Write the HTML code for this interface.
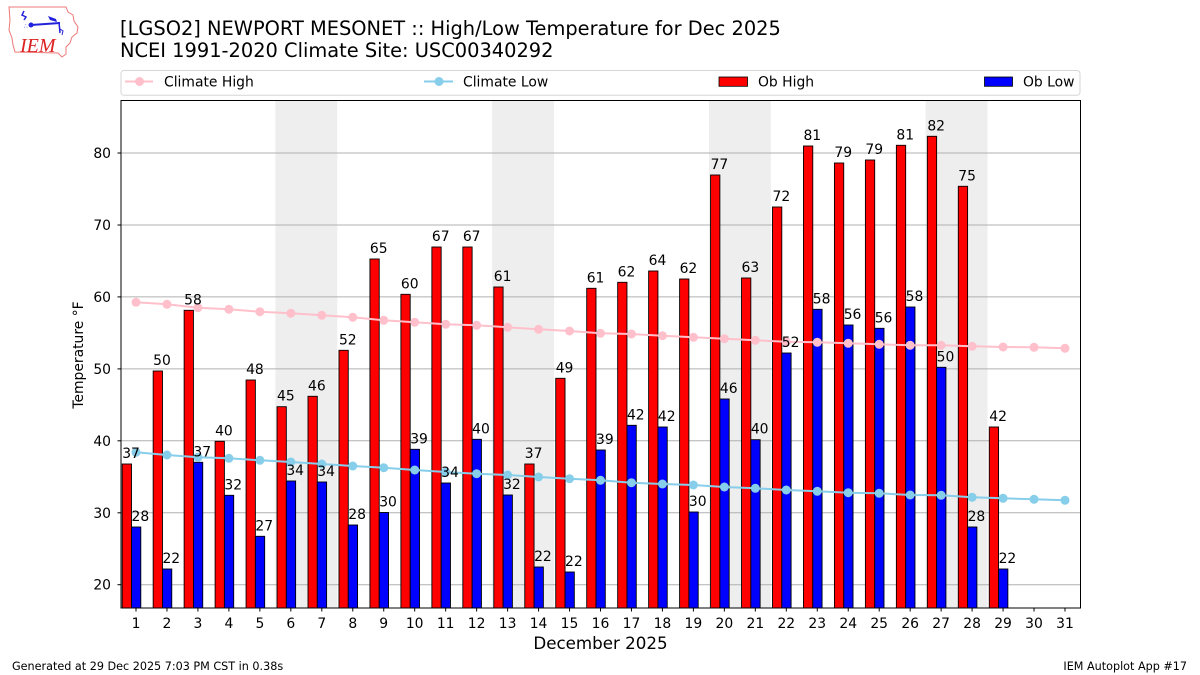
<!DOCTYPE html>
<html><head><meta charset="utf-8"><style>
html,body{margin:0;padding:0;background:#fff;}
svg{display:block;font-family:"DejaVu Sans","Liberation Sans",sans-serif;}
</style></head><body>
<svg width="1200" height="675" viewBox="0 0 1200 675" xmlns="http://www.w3.org/2000/svg">
<rect width="1200" height="675" fill="#fff"/>
<!-- logo -->
<g>
<path d="M9,7 L66,7 L68,12 L73,15 L74,21 L78,27 L77,33 L72,37 L70,43 L66,47 L66,54 L62,57 L58,53 L15,52 L13,45 L12,38 L9,30 L10,20 Z" fill="none" stroke="#e77" stroke-width="1"/>
<path d="M24,11 L22,15 L26,17 L24,20" fill="none" stroke="#22d" stroke-width="1.5"/>
<circle cx="31" cy="25" r="2.5" fill="#22d"/>
<line x1="31" y1="25" x2="60" y2="23" stroke="#22d" stroke-width="2"/>
<path d="M48,16 L56,19 L57,22 L50,20 Z" fill="#22d"/>
<line x1="59" y1="22" x2="60" y2="33" stroke="#22d" stroke-width="1.5"/>
<path d="M60,29 L63,31 L62,35" fill="none" stroke="#22d" stroke-width="1"/>
<text x="24" y="28" font-size="6" fill="#22d">∴</text>
<text x="20" y="52" font-family="Liberation Serif,serif" font-style="italic" font-size="20" fill="#d22">IEM</text>
</g>
<!-- title -->
<text x="120" y="35" font-size="19.4" fill="#000">[LGSO2] NEWPORT MESONET :: High/Low Temperature for Dec 2025</text>
<text x="120" y="57" font-size="19.4" fill="#000">NCEI 1991-2020 Climate Site: USC00340292</text>
<!-- legend -->
<rect x="121" y="70.5" width="959" height="24.8" rx="3" fill="#fff" stroke="#d6d6d6" stroke-width="1"/>
<line x1="125" y1="81.5" x2="153" y2="81.5" stroke="#ffc0cb" stroke-width="2"/>
<circle cx="139.5" cy="81.5" r="4.5" fill="#ffc0cb"/>
<text x="164" y="86.5" font-size="13.9">Climate High</text>
<line x1="424" y1="81.5" x2="453" y2="81.5" stroke="#87ceeb" stroke-width="2"/>
<circle cx="439" cy="81.5" r="4.5" fill="#87ceeb"/>
<text x="463" y="86.5" font-size="13.9">Climate Low</text>
<rect x="719" y="77" width="28.5" height="9.3" fill="#f00" stroke="#000" stroke-width="0.8"/>
<text x="758" y="86.5" font-size="13.9">Ob High</text>
<rect x="984.5" y="77" width="28" height="9.3" fill="#00f" stroke="#000" stroke-width="0.8"/>
<text x="1023" y="86.5" font-size="13.9">Ob Low</text>
<!-- weekend shading -->
<g fill="#eeeeee">
<rect x="275.35" y="100.5" width="61.93" height="507.5"/>
<rect x="492.1" y="100.5" width="61.93" height="507.5"/>
<rect x="708.9" y="100.5" width="61.93" height="507.5"/>
<rect x="925.65" y="100.5" width="61.93" height="507.5"/>
</g>
<!-- grid -->
<g stroke="#b0b0b0" stroke-width="1">
<line x1="121" y1="584.7" x2="1080.5" y2="584.7"/>
<line x1="121" y1="512.8" x2="1080.5" y2="512.8"/>
<line x1="121" y1="440.8" x2="1080.5" y2="440.8"/>
<line x1="121" y1="368.9" x2="1080.5" y2="368.9"/>
<line x1="121" y1="296.9" x2="1080.5" y2="296.9"/>
<line x1="121" y1="225.0" x2="1080.5" y2="225.0"/>
<line x1="121" y1="153.0" x2="1080.5" y2="153.0"/>
</g>
<!-- red bars -->
<g fill="#f00" stroke="#000" stroke-width="0.9">
<rect x="122.2" y="464" width="9.3" height="144"/>
<rect x="153.17" y="371" width="9.3" height="237"/>
<rect x="184.13" y="310.3" width="9.3" height="297.7"/>
<rect x="215.1" y="441.3" width="9.3" height="166.7"/>
<rect x="246.07" y="380" width="9.3" height="228"/>
<rect x="277.03" y="406.7" width="9.3" height="201.3"/>
<rect x="308.0" y="396.3" width="9.3" height="211.7"/>
<rect x="338.97" y="350.3" width="9.3" height="257.7"/>
<rect x="369.93" y="259" width="9.3" height="349"/>
<rect x="400.9" y="294.3" width="9.3" height="313.7"/>
<rect x="431.87" y="247" width="9.3" height="361"/>
<rect x="462.83" y="247" width="9.3" height="361"/>
<rect x="493.8" y="287" width="9.3" height="321"/>
<rect x="524.77" y="464" width="9.3" height="144"/>
<rect x="555.73" y="378.3" width="9.3" height="229.7"/>
<rect x="586.7" y="288.3" width="9.3" height="319.7"/>
<rect x="617.67" y="282.3" width="9.3" height="325.7"/>
<rect x="648.63" y="271" width="9.3" height="337"/>
<rect x="679.6" y="279" width="9.3" height="329"/>
<rect x="710.57" y="175" width="9.3" height="433"/>
<rect x="741.53" y="278" width="9.3" height="330"/>
<rect x="772.5" y="207" width="9.3" height="401"/>
<rect x="803.47" y="146" width="9.3" height="462"/>
<rect x="834.43" y="163" width="9.3" height="445"/>
<rect x="865.4" y="160" width="9.3" height="448"/>
<rect x="896.37" y="145.3" width="9.3" height="462.7"/>
<rect x="927.33" y="136.3" width="9.3" height="471.7"/>
<rect x="958.3" y="186.3" width="9.3" height="421.7"/>
<rect x="989.27" y="427" width="9.3" height="181"/>
</g>
<!-- blue bars -->
<g fill="#00f" stroke="#000" stroke-width="0.9">
<rect x="131.5" y="527" width="9.3" height="81"/>
<rect x="162.47" y="569" width="9.3" height="39"/>
<rect x="193.43" y="462.3" width="9.3" height="145.7"/>
<rect x="224.4" y="495.3" width="9.3" height="112.7"/>
<rect x="255.37" y="536.3" width="9.3" height="71.7"/>
<rect x="286.33" y="481" width="9.3" height="127"/>
<rect x="317.3" y="482" width="9.3" height="126"/>
<rect x="348.27" y="525" width="9.3" height="83"/>
<rect x="379.23" y="512.5" width="9.3" height="95.5"/>
<rect x="410.2" y="449.3" width="9.3" height="158.7"/>
<rect x="441.17" y="483" width="9.3" height="125"/>
<rect x="472.13" y="439.3" width="9.3" height="168.7"/>
<rect x="503.1" y="495" width="9.3" height="113"/>
<rect x="534.07" y="567" width="9.3" height="41"/>
<rect x="565.03" y="572" width="9.3" height="36"/>
<rect x="596.0" y="450" width="9.3" height="158"/>
<rect x="626.97" y="425.3" width="9.3" height="182.7"/>
<rect x="657.93" y="427" width="9.3" height="181"/>
<rect x="688.9" y="512" width="9.3" height="96"/>
<rect x="719.87" y="399" width="9.3" height="209"/>
<rect x="750.83" y="439.7" width="9.3" height="168.3"/>
<rect x="781.8" y="353" width="9.3" height="255"/>
<rect x="812.77" y="309.3" width="9.3" height="298.7"/>
<rect x="843.73" y="325" width="9.3" height="283"/>
<rect x="874.7" y="328.3" width="9.3" height="279.7"/>
<rect x="905.67" y="307" width="9.3" height="301"/>
<rect x="936.63" y="367.3" width="9.3" height="240.7"/>
<rect x="967.6" y="527" width="9.3" height="81"/>
<rect x="998.57" y="569" width="9.3" height="39"/>
</g>
<!-- climate high -->
<polyline fill="none" stroke="#ffc0cb" stroke-width="2" points="136,302.3 166.97,304.3 197.93,307.7 228.9,309.3 259.87,311.7 290.83,313.3 321.8,315.3 352.77,317.3 383.73,320.3 414.7,322.3 445.67,324.3 476.63,325.3 507.6,327.3 538.57,329.3 569.53,331 600.5,333.3 631.47,334 662.43,335.7 693.4,337.3 724.37,338.7 755.33,340.3 786.3,341.7 817.27,342.3 848.23,343.3 879.2,344.3 910.17,345.3 941.13,345.3 972.1,346.3 1003.07,347 1034.03,347.3 1065,348.3"/>
<g fill="#ffc0cb">
<circle cx="136" cy="302.3" r="4.5"/><circle cx="166.97" cy="304.3" r="4.5"/><circle cx="197.93" cy="307.7" r="4.5"/><circle cx="228.9" cy="309.3" r="4.5"/><circle cx="259.87" cy="311.7" r="4.5"/><circle cx="290.83" cy="313.3" r="4.5"/><circle cx="321.8" cy="315.3" r="4.5"/><circle cx="352.77" cy="317.3" r="4.5"/><circle cx="383.73" cy="320.3" r="4.5"/><circle cx="414.7" cy="322.3" r="4.5"/><circle cx="445.67" cy="324.3" r="4.5"/><circle cx="476.63" cy="325.3" r="4.5"/><circle cx="507.6" cy="327.3" r="4.5"/><circle cx="538.57" cy="329.3" r="4.5"/><circle cx="569.53" cy="331" r="4.5"/><circle cx="600.5" cy="333.3" r="4.5"/><circle cx="631.47" cy="334" r="4.5"/><circle cx="662.43" cy="335.7" r="4.5"/><circle cx="693.4" cy="337.3" r="4.5"/><circle cx="724.37" cy="338.7" r="4.5"/><circle cx="755.33" cy="340.3" r="4.5"/><circle cx="786.3" cy="341.7" r="4.5"/><circle cx="817.27" cy="342.3" r="4.5"/><circle cx="848.23" cy="343.3" r="4.5"/><circle cx="879.2" cy="344.3" r="4.5"/><circle cx="910.17" cy="345.3" r="4.5"/><circle cx="941.13" cy="345.3" r="4.5"/><circle cx="972.1" cy="346.3" r="4.5"/><circle cx="1003.07" cy="347" r="4.5"/><circle cx="1034.03" cy="347.3" r="4.5"/><circle cx="1065" cy="348.3" r="4.5"/>
</g>
<!-- climate low -->
<polyline fill="none" stroke="#87ceeb" stroke-width="2" points="136,452.3 166.97,455 197.93,457.3 228.9,458.3 259.87,460.3 290.83,462 321.8,464 352.77,466 383.73,467.7 414.7,470 445.67,472 476.63,473.7 507.6,475 538.57,477 569.53,478.7 600.5,480.3 631.47,482.7 662.43,484 693.4,485 724.37,487 755.33,488.3 786.3,490 817.27,491.3 848.23,492.7 879.2,493.3 910.17,495 941.13,495.3 972.1,497.3 1003.07,498.3 1034.03,499.3 1065,500.3"/>
<g fill="#87ceeb">
<circle cx="136" cy="452.3" r="4.5"/><circle cx="166.97" cy="455" r="4.5"/><circle cx="197.93" cy="457.3" r="4.5"/><circle cx="228.9" cy="458.3" r="4.5"/><circle cx="259.87" cy="460.3" r="4.5"/><circle cx="290.83" cy="462" r="4.5"/><circle cx="321.8" cy="464" r="4.5"/><circle cx="352.77" cy="466" r="4.5"/><circle cx="383.73" cy="467.7" r="4.5"/><circle cx="414.7" cy="470" r="4.5"/><circle cx="445.67" cy="472" r="4.5"/><circle cx="476.63" cy="473.7" r="4.5"/><circle cx="507.6" cy="475" r="4.5"/><circle cx="538.57" cy="477" r="4.5"/><circle cx="569.53" cy="478.7" r="4.5"/><circle cx="600.5" cy="480.3" r="4.5"/><circle cx="631.47" cy="482.7" r="4.5"/><circle cx="662.43" cy="484" r="4.5"/><circle cx="693.4" cy="485" r="4.5"/><circle cx="724.37" cy="487" r="4.5"/><circle cx="755.33" cy="488.3" r="4.5"/><circle cx="786.3" cy="490" r="4.5"/><circle cx="817.27" cy="491.3" r="4.5"/><circle cx="848.23" cy="492.7" r="4.5"/><circle cx="879.2" cy="493.3" r="4.5"/><circle cx="910.17" cy="495" r="4.5"/><circle cx="941.13" cy="495.3" r="4.5"/><circle cx="972.1" cy="497.3" r="4.5"/><circle cx="1003.07" cy="498.3" r="4.5"/><circle cx="1034.03" cy="499.3" r="4.5"/><circle cx="1065" cy="500.3" r="4.5"/>
</g>
<!-- bar labels -->
<g font-size="13.9" fill="#000">
<text x="122.2" y="458">37</text>
<text x="153.17" y="365">50</text>
<text x="184.13" y="304.3">58</text>
<text x="215.1" y="435.3">40</text>
<text x="246.07" y="374">48</text>
<text x="277.03" y="400.7">45</text>
<text x="308.0" y="390.3">46</text>
<text x="338.97" y="344.3">52</text>
<text x="369.93" y="253">65</text>
<text x="400.9" y="288.3">60</text>
<text x="431.87" y="241">67</text>
<text x="462.83" y="241">67</text>
<text x="493.8" y="281">61</text>
<text x="524.77" y="458">37</text>
<text x="555.73" y="372.3">49</text>
<text x="586.7" y="282.3">61</text>
<text x="617.67" y="276.3">62</text>
<text x="648.63" y="265">64</text>
<text x="679.6" y="273">62</text>
<text x="710.57" y="169">77</text>
<text x="741.53" y="272">63</text>
<text x="772.5" y="201">72</text>
<text x="803.47" y="140">81</text>
<text x="834.43" y="157">79</text>
<text x="865.4" y="154">79</text>
<text x="896.37" y="139.3">81</text>
<text x="927.33" y="130.3">82</text>
<text x="958.3" y="180.3">75</text>
<text x="989.27" y="421">42</text>
<text x="131.5" y="521">28</text>
<text x="162.47" y="563">22</text>
<text x="193.43" y="456.3">37</text>
<text x="224.4" y="489.3">32</text>
<text x="255.37" y="530.3">27</text>
<text x="286.33" y="475">34</text>
<text x="317.3" y="476">34</text>
<text x="348.27" y="519">28</text>
<text x="379.23" y="506.5">30</text>
<text x="410.2" y="443.3">39</text>
<text x="441.17" y="477">34</text>
<text x="472.13" y="433.3">40</text>
<text x="503.1" y="489">32</text>
<text x="534.07" y="561">22</text>
<text x="565.03" y="566">22</text>
<text x="596.0" y="444">39</text>
<text x="626.97" y="419.3">42</text>
<text x="657.93" y="421">42</text>
<text x="688.9" y="506">30</text>
<text x="719.87" y="393">46</text>
<text x="750.83" y="433.7">40</text>
<text x="781.8" y="347">52</text>
<text x="812.77" y="303.3">58</text>
<text x="843.73" y="319">56</text>
<text x="874.7" y="322.3">56</text>
<text x="905.67" y="301">58</text>
<text x="936.63" y="361.3">50</text>
<text x="967.6" y="521">28</text>
<text x="998.57" y="563">22</text>
</g>
<!-- frame -->
<rect x="121" y="100.5" width="959.5" height="507.5" fill="none" stroke="#000" stroke-width="1"/>
<!-- y ticks -->
<g stroke="#000" stroke-width="1">
<line x1="117.5" y1="584.7" x2="121" y2="584.7"/>
<line x1="117.5" y1="512.8" x2="121" y2="512.8"/>
<line x1="117.5" y1="440.8" x2="121" y2="440.8"/>
<line x1="117.5" y1="368.9" x2="121" y2="368.9"/>
<line x1="117.5" y1="296.9" x2="121" y2="296.9"/>
<line x1="117.5" y1="225.0" x2="121" y2="225.0"/>
<line x1="117.5" y1="153.0" x2="121" y2="153.0"/>
</g>
<g font-size="13.9" text-anchor="end" fill="#000">
<text x="111" y="589.7">20</text>
<text x="111" y="517.8">30</text>
<text x="111" y="445.8">40</text>
<text x="111" y="373.9">50</text>
<text x="111" y="301.9">60</text>
<text x="111" y="230.0">70</text>
<text x="111" y="158.0">80</text>
</g>
<text transform="translate(83,355) rotate(-90)" font-size="13.9" text-anchor="middle">Temperature °F</text>
<!-- x ticks -->
<g stroke="#000" stroke-width="1">
<line x1="136" y1="608" x2="136" y2="611.5"/><line x1="166.97" y1="608" x2="166.97" y2="611.5"/><line x1="197.93" y1="608" x2="197.93" y2="611.5"/><line x1="228.9" y1="608" x2="228.9" y2="611.5"/><line x1="259.87" y1="608" x2="259.87" y2="611.5"/><line x1="290.83" y1="608" x2="290.83" y2="611.5"/><line x1="321.8" y1="608" x2="321.8" y2="611.5"/><line x1="352.77" y1="608" x2="352.77" y2="611.5"/><line x1="383.73" y1="608" x2="383.73" y2="611.5"/><line x1="414.7" y1="608" x2="414.7" y2="611.5"/><line x1="445.67" y1="608" x2="445.67" y2="611.5"/><line x1="476.63" y1="608" x2="476.63" y2="611.5"/><line x1="507.6" y1="608" x2="507.6" y2="611.5"/><line x1="538.57" y1="608" x2="538.57" y2="611.5"/><line x1="569.53" y1="608" x2="569.53" y2="611.5"/><line x1="600.5" y1="608" x2="600.5" y2="611.5"/><line x1="631.47" y1="608" x2="631.47" y2="611.5"/><line x1="662.43" y1="608" x2="662.43" y2="611.5"/><line x1="693.4" y1="608" x2="693.4" y2="611.5"/><line x1="724.37" y1="608" x2="724.37" y2="611.5"/><line x1="755.33" y1="608" x2="755.33" y2="611.5"/><line x1="786.3" y1="608" x2="786.3" y2="611.5"/><line x1="817.27" y1="608" x2="817.27" y2="611.5"/><line x1="848.23" y1="608" x2="848.23" y2="611.5"/><line x1="879.2" y1="608" x2="879.2" y2="611.5"/><line x1="910.17" y1="608" x2="910.17" y2="611.5"/><line x1="941.13" y1="608" x2="941.13" y2="611.5"/><line x1="972.1" y1="608" x2="972.1" y2="611.5"/><line x1="1003.07" y1="608" x2="1003.07" y2="611.5"/><line x1="1034.03" y1="608" x2="1034.03" y2="611.5"/><line x1="1065" y1="608" x2="1065" y2="611.5"/>
</g>
<g font-size="13.9" text-anchor="middle" fill="#000">
<text x="136" y="628">1</text><text x="166.97" y="628">2</text><text x="197.93" y="628">3</text><text x="228.9" y="628">4</text><text x="259.87" y="628">5</text><text x="290.83" y="628">6</text><text x="321.8" y="628">7</text><text x="352.77" y="628">8</text><text x="383.73" y="628">9</text><text x="414.7" y="628">10</text><text x="445.67" y="628">11</text><text x="476.63" y="628">12</text><text x="507.6" y="628">13</text><text x="538.57" y="628">14</text><text x="569.53" y="628">15</text><text x="600.5" y="628">16</text><text x="631.47" y="628">17</text><text x="662.43" y="628">18</text><text x="693.4" y="628">19</text><text x="724.37" y="628">20</text><text x="755.33" y="628">21</text><text x="786.3" y="628">22</text><text x="817.27" y="628">23</text><text x="848.23" y="628">24</text><text x="879.2" y="628">25</text><text x="910.17" y="628">26</text><text x="941.13" y="628">27</text><text x="972.1" y="628">28</text><text x="1003.07" y="628">29</text><text x="1034.03" y="628">30</text><text x="1065" y="628">31</text>
</g>
<text x="600.5" y="649" font-size="16.7" text-anchor="middle">December 2025</text>
<!-- footer -->
<text x="12" y="670" font-size="11.2">Generated at 29 Dec 2025 7:03 PM CST in 0.38s</text>
<text x="1187" y="670" font-size="11.2" text-anchor="end">IEM Autoplot App #17</text>
</svg>
</body></html>
